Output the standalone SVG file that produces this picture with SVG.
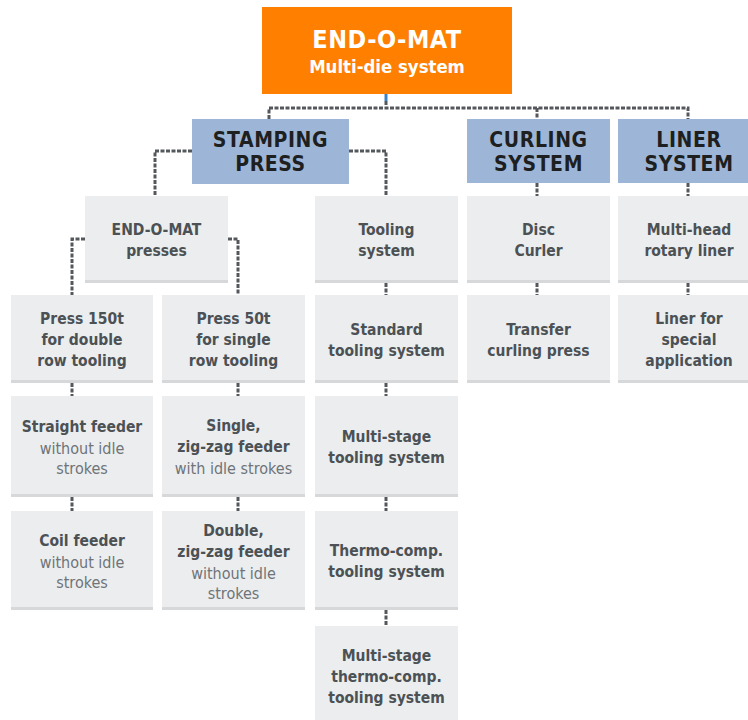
<svg xmlns="http://www.w3.org/2000/svg" width="748" height="720" viewBox="0 0 748 720">
<style>
text{font-family:"DejaVu Sans Condensed","DejaVu Sans",sans-serif;font-stretch:condensed;text-anchor:middle}
.box{fill:#ECEDEE}
.strip{fill:#D6D8DA}
.hdr{fill:#9DB6D7}
.org{fill:#FF7F00}
.b{font-weight:bold;font-size:15.5px;fill:#4B5155}
.r{font-size:16px;fill:#6E7479}
.h{font-weight:bold;font-size:21px;fill:#1E1F21;letter-spacing:0.6px}
.t1{font-weight:bold;font-size:25px;fill:#FFFFFF;letter-spacing:0.5px}
.t2{font-weight:bold;font-size:18.4px;fill:#FFFFFF}
.c{fill:none;stroke:#54585C;stroke-width:3;stroke-dasharray:4 1.5}
</style>
<g id="connectors">
<line x1="386" y1="94" x2="386" y2="101" stroke="#3F82C4" stroke-width="3"/>
<path class="c" d="M386 101V108M269 119V108H688V119M537 108V119"/>
<path class="c" d="M192 151H155V196M349 151H386V196"/>
<path class="c" d="M85 239H72V295M228 239H238V295"/>
<path class="c" d="M72 383V396M72 497V511M238 383V396M238 497V511"/>
<path class="c" d="M386 283V295M386 383V396M386 497V511M386 610V626"/>
<path class="c" d="M537 183V196M537 283V295"/>
<path class="c" d="M688 183V196M688 283V295"/>
</g>
<g id="n-root"><rect class="org" x="262" y="7" width="250" height="87"/><text class="t1" x="387" y="48">END-O-MAT</text><text class="t2" x="387" y="73">Multi-die system</text></g>
<g id="n-stamping"><rect class="hdr" x="192" y="119" width="157" height="65"/><text class="h" x="270.5" y="147">STAMPING</text><text class="h" x="270.5" y="171">PRESS</text></g>
<g id="n-curling"><rect class="hdr" x="467" y="119" width="143" height="64"/><text class="h" x="538.5" y="147">CURLING</text><text class="h" x="538.5" y="171">SYSTEM</text></g>
<g id="n-liner"><rect class="hdr" x="618" y="119" width="130" height="64"/><text class="h" x="689" y="147">LINER</text><text class="h" x="689" y="171">SYSTEM</text></g>

<g id="n-presses"><rect class="box" x="85" y="196" width="143" height="87"/><rect class="strip" x="85" y="280" width="143" height="3"/><text class="b" x="156.5" y="235">END-O-MAT</text><text class="b" x="156.5" y="256">presses</text></g>
<g id="n-tooling"><rect class="box" x="315" y="196" width="143" height="87"/><rect class="strip" x="315" y="280" width="143" height="3"/><text class="b" x="386.5" y="235">Tooling</text><text class="b" x="386.5" y="256">system</text></g>
<g id="n-disc"><rect class="box" x="467" y="196" width="143" height="87"/><rect class="strip" x="467" y="280" width="143" height="3"/><text class="b" x="538.5" y="235">Disc</text><text class="b" x="538.5" y="256">Curler</text></g>
<g id="n-multihead"><rect class="box" x="618" y="196" width="130" height="87"/><rect class="strip" x="618" y="280" width="130" height="3"/><text class="b" x="689" y="235">Multi-head</text><text class="b" x="689" y="256">rotary liner</text></g>

<g id="n-press150"><rect class="box" x="11" y="295" width="142" height="88"/><rect class="strip" x="11" y="380" width="142" height="3"/><text class="b" x="82" y="324">Press 150t</text><text class="b" x="82" y="345">for double</text><text class="b" x="82" y="366">row tooling</text></g>
<g id="n-press50"><rect class="box" x="162" y="295" width="143" height="88"/><rect class="strip" x="162" y="380" width="143" height="3"/><text class="b" x="233.5" y="324">Press 50t</text><text class="b" x="233.5" y="345">for single</text><text class="b" x="233.5" y="366">row tooling</text></g>
<g id="n-standard"><rect class="box" x="315" y="295" width="143" height="88"/><rect class="strip" x="315" y="380" width="143" height="3"/><text class="b" x="386.5" y="335">Standard</text><text class="b" x="386.5" y="356">tooling system</text></g>
<g id="n-transfer"><rect class="box" x="467" y="295" width="143" height="88"/><rect class="strip" x="467" y="380" width="143" height="3"/><text class="b" x="538.5" y="335">Transfer</text><text class="b" x="538.5" y="356">curling press</text></g>
<g id="n-special"><rect class="box" x="618" y="295" width="130" height="88"/><rect class="strip" x="618" y="380" width="130" height="3"/><text class="b" x="689" y="324">Liner for</text><text class="b" x="689" y="345">special</text><text class="b" x="689" y="366">application</text></g>

<g id="n-straight"><rect class="box" x="11" y="396" width="142" height="101"/><rect class="strip" x="11" y="494" width="142" height="3"/><text class="b" x="82" y="432">Straight feeder</text><text class="r" x="82" y="454">without idle</text><text class="r" x="82" y="474">strokes</text></g>
<g id="n-single"><rect class="box" x="162" y="396" width="143" height="101"/><rect class="strip" x="162" y="494" width="143" height="3"/><text class="b" x="233.5" y="431">Single,</text><text class="b" x="233.5" y="452">zig-zag feeder</text><text class="r" x="233.5" y="474">with idle strokes</text></g>
<g id="n-multistage"><rect class="box" x="315" y="396" width="143" height="101"/><rect class="strip" x="315" y="494" width="143" height="3"/><text class="b" x="386.5" y="442">Multi-stage</text><text class="b" x="386.5" y="463">tooling system</text></g>

<g id="n-coil"><rect class="box" x="11" y="511" width="142" height="99"/><rect class="strip" x="11" y="607" width="142" height="3"/><text class="b" x="82" y="546">Coil feeder</text><text class="r" x="82" y="568">without idle</text><text class="r" x="82" y="588">strokes</text></g>
<g id="n-double"><rect class="box" x="162" y="511" width="143" height="99"/><rect class="strip" x="162" y="607" width="143" height="3"/><text class="b" x="233.5" y="536">Double,</text><text class="b" x="233.5" y="557">zig-zag feeder</text><text class="r" x="233.5" y="579">without idle</text><text class="r" x="233.5" y="599">strokes</text></g>
<g id="n-thermo"><rect class="box" x="315" y="511" width="143" height="99"/><rect class="strip" x="315" y="607" width="143" height="3"/><text class="b" x="386.5" y="556">Thermo-comp.</text><text class="b" x="386.5" y="577">tooling system</text></g>

<g id="n-mthermo"><rect class="box" x="315" y="626" width="143" height="94"/><text class="b" x="386.5" y="661">Multi-stage</text><text class="b" x="386.5" y="682">thermo-comp.</text><text class="b" x="386.5" y="703">tooling system</text></g>
</svg>
